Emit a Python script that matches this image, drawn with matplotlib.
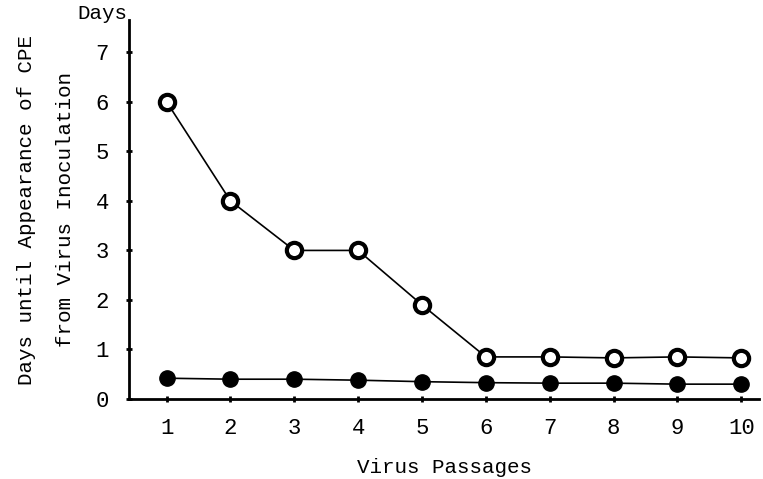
import matplotlib
matplotlib.use('Agg')
import matplotlib.pyplot as plt

#----------------------------------------------------#
# date
passages = [1, 2, 3, 4, 5, 6, 7, 8, 9, 10]
open_days = [6.0, 4.0, 3.0, 3.0, 1.9, 0.85, 0.85, 0.83, 0.85, 0.83]
filled_days = [0.42, 0.40, 0.40, 0.38, 0.35, 0.33, 0.32, 0.32, 0.30, 0.30]
yticks = [0, 1, 2, 3, 4, 5, 6, 7]
#----------------------------------------------------#
plt.rcParams['font.family'] = ['Liberation Mono', 'DejaVu Sans Mono']

fig = plt.figure(figsize=(7.63, 4.79), dpi=100)
ax = fig.add_axes([0.169, 0.167, 0.826, 0.791])

ax.plot(passages, open_days, color='black', lw=1.2, marker='o', ms=11,
        mfc='white', mec='black', mew=3, zorder=3)
ax.plot(passages, filled_days, color='black', lw=1.2, marker='o', ms=11,
        mfc='black', mec='black', zorder=3)

ax.set_xlim(0.41, 10.28)
ax.set_ylim(0, 7.65)
ax.set_xticks(passages)
ax.set_yticks(yticks)
ax.tick_params(labelsize=16, width=2, length=5, direction='inout')
ax.tick_params(axis='y', pad=12)
ax.tick_params(axis='x', pad=11)

for s in ['top', 'right']:
    ax.spines[s].set_visible(False)
for s in ['left', 'bottom']:
    ax.spines[s].set_linewidth(2)

ax.set_xlabel('Virus Passages', fontsize=15, labelpad=14)
ax.set_ylabel('Days until Appearance of CPE\nfrom Virus Inoculation',
              fontsize=15, labelpad=15, linespacing=2.3)
fig.text(0.101, 0.972, 'Days', fontsize=15, va='center')

fig.savefig('out.png', dpi=100)
